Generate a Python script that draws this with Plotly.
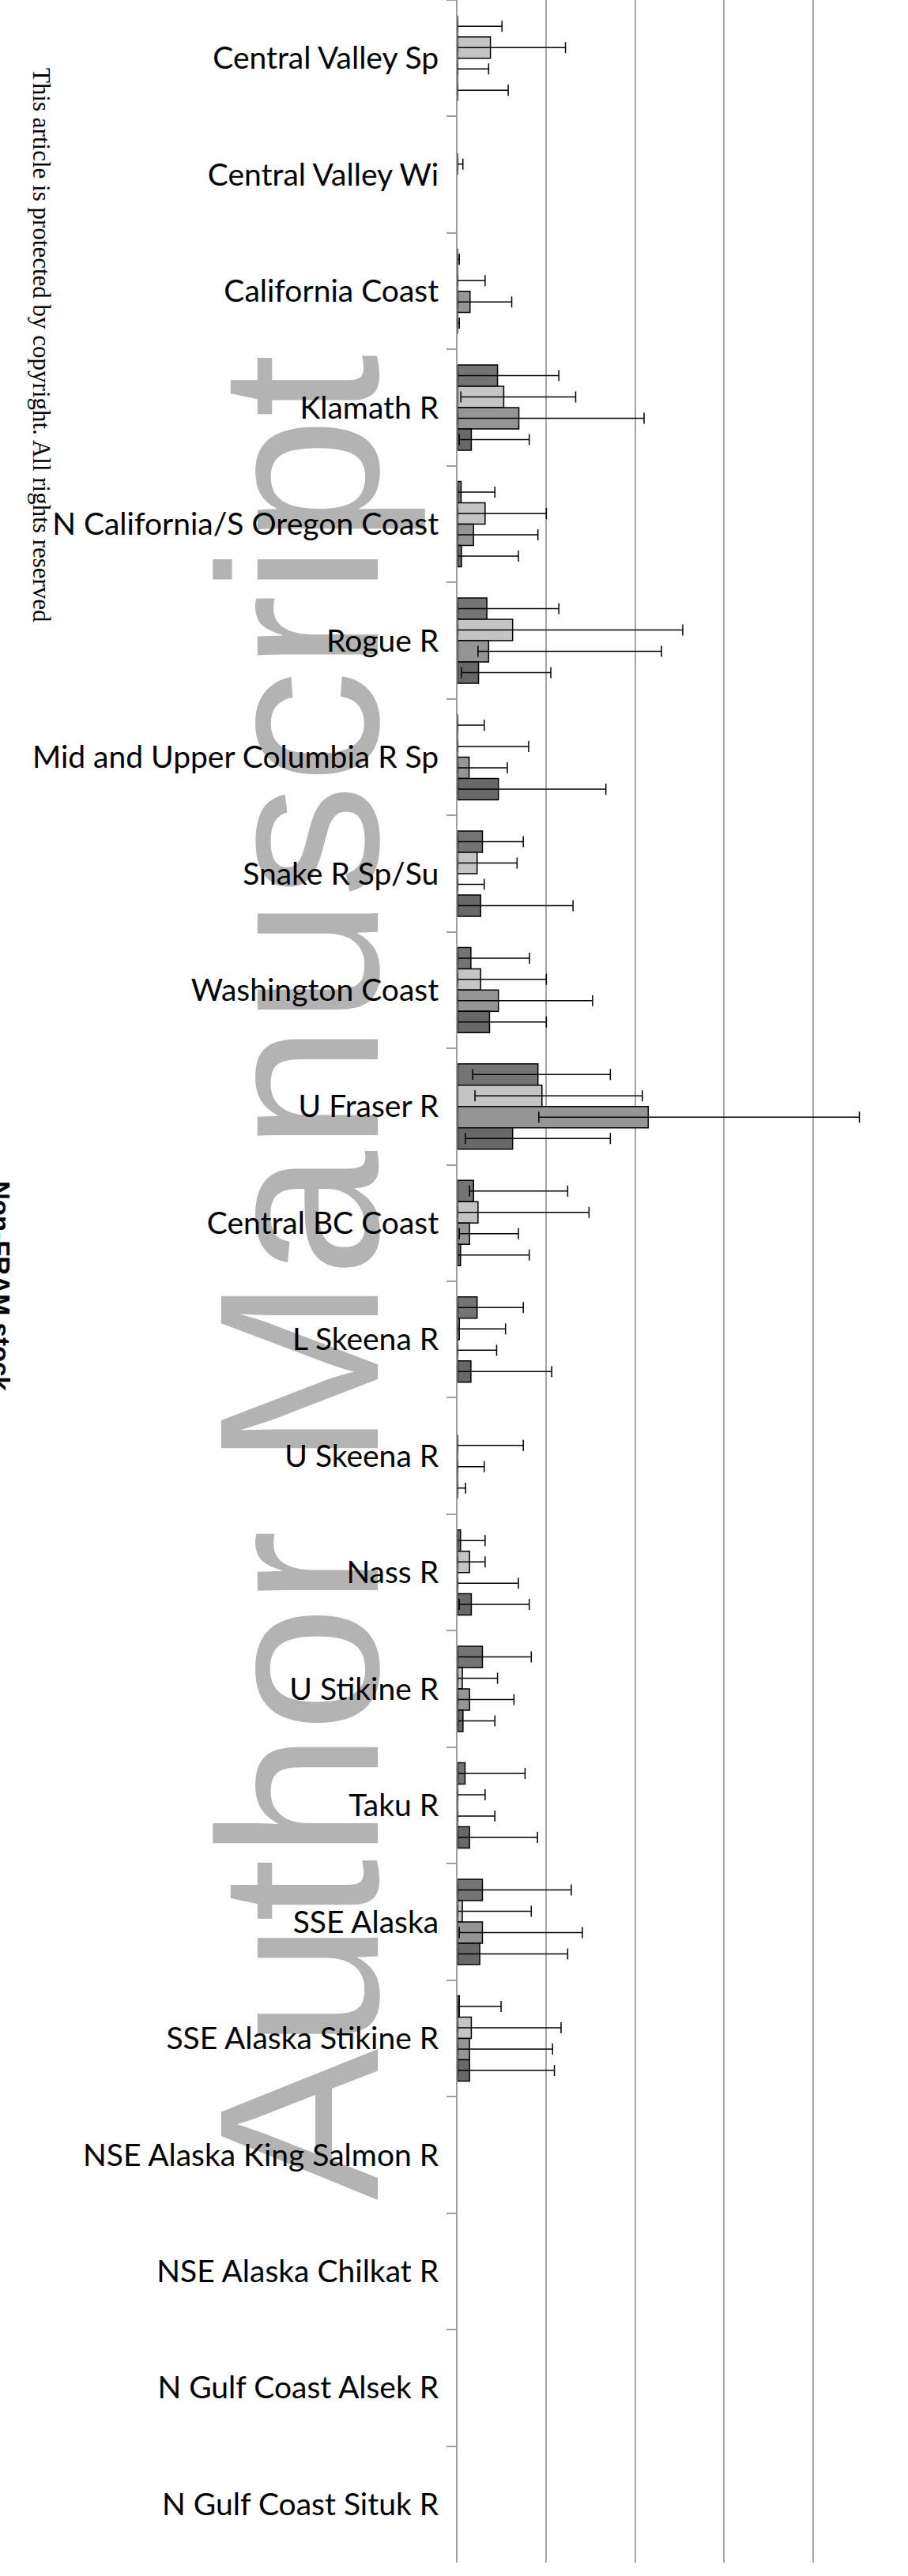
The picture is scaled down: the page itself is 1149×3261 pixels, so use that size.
import plotly.graph_objects as go

categories = [
    "Central Valley Sp", "Central Valley Wi", "California Coast", "Klamath R",
    "N California/S Oregon Coast", "Rogue R", "Mid and Upper Columbia R Sp",
    "Snake R Sp/Su", "Washington Coast", "U Fraser R", "Central BC Coast",
    "L Skeena R", "U Skeena R", "Nass R", "U Stikine R", "Taku R", "SSE Alaska",
    "SSE Alaska Stikine R", "NSE Alaska King Salmon R", "NSE Alaska Chilkat R",
    "N Gulf Coast Alsek R", "N Gulf Coast Situk R",
]

# Series 1 (dark grey)
s1_val = [0.0, None, 0.0, 0.045, 0.004, 0.033, 0.0, 0.028, 0.015, 0.0905, 0.018,
          0.022, None, 0.0034, 0.028, 0.0084, 0.028, 0.002, None, None, None, None]
s1_lo = [0.0, None, 0.0, 0.0, 0.0, 0.0, 0.0, 0.0, 0.0, 0.017, 0.0135,
         0.0, None, 0.0, 0.0, 0.0, 0.0, 0.0, None, None, None, None]
s1_hi = [0.050, None, 0.002, 0.114, 0.042, 0.114, 0.030, 0.074, 0.081, 0.172, 0.124,
         0.074, None, 0.031, 0.083, 0.076, 0.128, 0.049, None, None, None, None]

# Series 2 (light grey)
s2_val = [0.037, 0.0, 0.0, 0.052, 0.031, 0.062, 0.0, 0.022, 0.026, 0.095, 0.023,
          0.002, 0.0, 0.0135, 0.0054, 0.0, 0.0054, 0.0155, None, None, None, None]
s2_lo = [0.0, 0.0, 0.0, 0.0037, 0.0, 0.0, 0.0, 0.0, 0.0, 0.0196, 0.0,
         0.0, 0.0, 0.0, 0.0, 0.0, 0.0, 0.0, None, None, None, None]
s2_hi = [0.1215, 0.006, 0.031, 0.133, 0.100, 0.2535, 0.080, 0.067, 0.100, 0.208, 0.148,
         0.054, 0.074, 0.031, 0.045, 0.031, 0.083, 0.1165, None, None, None, None]

# Series 3 (medium grey)
s3_val = [0.0, None, 0.014, 0.069, 0.018, 0.035, 0.013, 0.0, 0.046, 0.2147, 0.0135,
          0.0, 0.0, 0.0, 0.0135, 0.0, 0.028, 0.0135, None, None, None, None]
s3_lo = [0.0, None, 0.0, 0.0, 0.0, 0.023, 0.0, 0.0, 0.0, 0.0915, 0.002,
         0.0, 0.0, 0.0, 0.0, 0.0, 0.002, 0.0, None, None, None, None]
s3_hi = [0.035, None, 0.061, 0.210, 0.0905, 0.2296, 0.056, 0.030, 0.152, 0.4524, 0.0685,
         0.044, 0.030, 0.0685, 0.0635, 0.042, 0.1405, 0.107, None, None, None, None]

# Series 4 (darkest grey)
s4_val = [0.0, None, 0.0, 0.0155, 0.0044, 0.0236, 0.046, 0.026, 0.036, 0.062, 0.0034,
          0.015, 0.0, 0.0155, 0.0061, 0.0135, 0.025, 0.0135, None, None, None, None]
s4_lo = [0.0, None, 0.0, 0.002, 0.0, 0.0044, 0.0, 0.0, 0.0, 0.0088, 0.0,
         0.0, 0.0, 0.002, 0.0, 0.0, 0.0, 0.0, None, None, None, None]
s4_hi = [0.057, None, 0.002, 0.0807, 0.0685, 0.105, 0.167, 0.130, 0.100, 0.172, 0.0807,
         0.106, 0.009, 0.0807, 0.042, 0.090, 0.124, 0.109, None, None, None, None]

series_names = ["Series 1", "Series 2", "Series 3", "Series 4"]
series_colors = ["#747474", "#c4c4c4", "#959595", "#686868"]

fig = go.Figure()
for name, col, val, lo, hi in zip(
        series_names, series_colors,
        [s1_val, s2_val, s3_val, s4_val],
        [s1_lo, s2_lo, s3_lo, s4_lo],
        [s1_hi, s2_hi, s3_hi, s4_hi]):
    plus = [None if v is None else h - v for v, h in zip(val, hi)]
    minus = [None if v is None else v - l for v, l in zip(val, lo)]
    fig.add_trace(go.Bar(
        y=categories, x=val, orientation="h", name=name,
        marker=dict(color=col, line=dict(color="black", width=1.5)),
        error_x=dict(type="data", symmetric=False, array=plus, arrayminus=minus,
                     color="black", thickness=1.5, width=7),
    ))

W, H = 1149, 3261
ML, MR, MT, MB = 579, 8, 0, 17
pw = W - ML - MR
ph = H - MT - MB


def px_x(px):
    return (px - ML) / pw


def px_y(py):
    return 1 - (py - MT) / ph


fig.update_layout(
    width=W, height=H,
    margin=dict(l=ML, r=MR, t=MT, b=MB, pad=0, autoexpand=False),
    paper_bgcolor="white", plot_bgcolor="white",
    barmode="group", bargap=0.268, bargroupgap=0,
    showlegend=False,
    xaxis=dict(range=[0, 0.5], dtick=0.1, showgrid=True, gridcolor="#a6a6a6",
               gridwidth=2, zeroline=False, showline=False, showticklabels=False,
               ticks="", automargin=False),
    yaxis=dict(type="category", categoryorder="array", categoryarray=categories,
               autorange="reversed", showgrid=False, showline=True,
               linecolor="#a0a0a0", linewidth=2, ticks="outside", ticklen=12,
               tickwidth=2, tickcolor="#a0a0a0", tickson="boundaries",
               ticklabelstandoff=14, automargin=False,
               tickfont=dict(family="Lato", size=39, color="black")),
    shapes=[dict(
        type="rect", xref="paper", yref="paper",
        x0=px_x(278), x1=px_x(426), y0=px_y(1700), y1=px_y(1534),
        line=dict(width=0), fillcolor="rgba(0,0,0,0)", layer="below",
        label=dict(text="Author Manuscript", textangle=-90,
                   textposition="middle center",
                   font=dict(family="Liberation Sans", size=288, color="#b3b3b3")),
    )],
    annotations=[
        dict(text="This article is protected by copyright. All rights reserved",
             xref="paper", yref="paper", x=px_x(53), y=px_y(437),
             xanchor="center", yanchor="middle", textangle=90, showarrow=False,
             font=dict(family="Liberation Serif", size=31, color="black")),
        dict(text="<b>Non-FRAM stock</b>",
             xref="paper", yref="paper", x=px_x(1), y=px_y(1628),
             xanchor="center", yanchor="middle", textangle=90, showarrow=False,
             font=dict(family="Liberation Sans", size=33, color="black")),
    ],
)

fig.write_html("out.html",
               config={"displayModeBar": False, "staticPlot": True},
               post_script="document.body.style.margin='0';"
                           "document.body.style.overflow='hidden';")
